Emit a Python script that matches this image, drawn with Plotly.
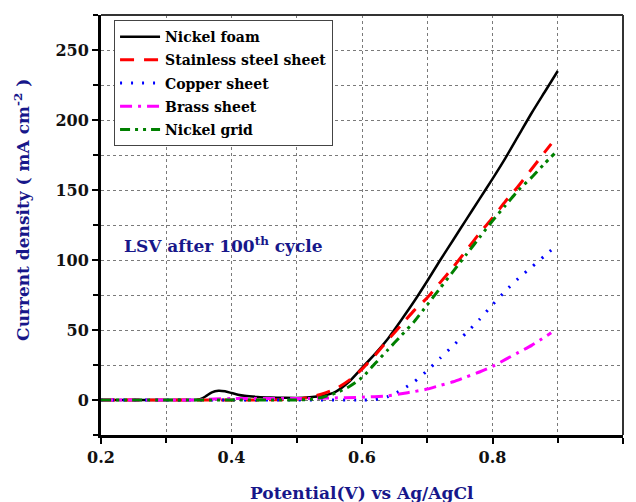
import plotly.graph_objects as go

# ---------------- data ----------------
foam_x = [0.20, 0.30, 0.34, 0.35, 0.36, 0.37, 0.38, 0.39, 0.40, 0.41, 0.42, 0.44, 0.46, 0.48, 0.50,
          0.52, 0.54, 0.56, 0.58, 0.60, 0.62, 0.64, 0.66, 0.68, 0.70, 0.72, 0.74, 0.76, 0.78, 0.80,
          0.82, 0.84, 0.86, 0.88, 0.90]
foam_y = [0, 0, 0, 0.3, 2.5, 5.5, 6.6, 6.2, 5.0, 3.8, 3.0, 2.2, 1.8, 1.6, 1.5,
          2.0, 3.0, 6.0, 13, 23, 33, 44, 57, 70.5, 85, 100, 114.5, 129, 143.5, 158,
          173, 189, 205, 220, 235]

ss_x = [0.20, 0.30, 0.40, 0.50, 0.52, 0.54, 0.56, 0.58, 0.60, 0.62, 0.64, 0.66, 0.68, 0.70, 0.72,
        0.74, 0.76, 0.78, 0.80, 0.82, 0.84, 0.86, 0.88, 0.89]
ss_y = [0, 0, 0, 0.5, 2, 4.5, 8, 14, 22, 32, 43, 53.5, 64, 73, 84,
        95, 107, 119, 130, 142, 153, 165, 177, 183]

cu_x = [0.20, 0.30, 0.40, 0.50, 0.60, 0.62, 0.64, 0.66, 0.68, 0.70, 0.72, 0.74, 0.76, 0.78, 0.80,
        0.82, 0.84, 0.86, 0.88, 0.89]
cu_y = [0, 0, 0, 0, 0, 0.3, 2.5, 7, 13, 21, 30, 39, 48, 57.5, 68,
        78, 87, 95, 103, 107]

brass_x = [0.20, 0.30, 0.35, 0.36, 0.40, 0.50, 0.55, 0.60, 0.64, 0.66, 0.68, 0.70, 0.72, 0.74, 0.76,
           0.78, 0.80, 0.82, 0.84, 0.86, 0.88, 0.89]
brass_y = [0, 0, 0, 0.5, 1.0, 1.0, 1.4, 2.0, 3.0, 4.5, 6.0, 7.8, 10.5, 13, 16.5,
           20, 24, 29, 34, 39, 45, 48]

grid_x = [0.20, 0.30, 0.40, 0.50, 0.52, 0.54, 0.56, 0.58, 0.60, 0.62, 0.64, 0.66, 0.68, 0.70, 0.72,
          0.74, 0.76, 0.78, 0.80, 0.82, 0.84, 0.86, 0.88, 0.895]
grid_y = [0, 0, 0, 0, 0.5, 2, 5, 9.5, 16, 26, 36, 46, 56, 68, 80,
          92, 104, 116, 128, 139, 150, 159, 169, 176]

names = ["Nickel foam", "Stainless steel sheet", "Copper sheet", "Brass sheet", "Nickel grid"]
colors = ["black", "#ff0000", "#0000ff", "#ff00ff", "#008000"]
dashes = ["solid", "14px,10px", "2px,9px", "12px,6px,3px,6px", "10px,5px,3px,5px,3px,5px"]
widths = [2.5, 3, 3, 3, 3]

NAVY = "#17178a"
FONT = "DejaVu Serif"

fig = go.Figure()
series = [(foam_x, foam_y), (ss_x, ss_y), (cu_x, cu_y), (brass_x, brass_y), (grid_x, grid_y)]
for i, ((xs, ys), n, c, d, w) in enumerate(zip(series, names, colors, dashes, widths)):
    fig.add_trace(go.Scatter(x=xs, y=ys, mode="lines", name=n, legendgroup=f"g{i}",
                             line=dict(color=c, dash=d, width=w, shape="spline", smoothing=0.6)))

axis_common = dict(
    showline=True, linecolor="black", linewidth=3,
    ticks="outside", ticklen=6, tickwidth=2, tickcolor="black",
    showgrid=True, gridcolor="#7a7a7a", griddash="dot", gridwidth=1,
    zeroline=False,
    tickfont=dict(family=FONT, size=16, color="#111", weight="bold"),
)

fig.update_xaxes(range=[0.2, 1.0], dtick=0.2, tick0=0.2, tickformat=".1f",
                 minor=dict(dtick=0.1, ticks="outside", ticklen=5, tickwidth=2, tickcolor="black",
                            showgrid=True, gridcolor="#7a7a7a", griddash="dot", gridwidth=1),
                 **axis_common)
fig.update_yaxes(range=[-25, 275], dtick=50, tick0=0,
                 minor=dict(dtick=25, ticks="outside", ticklen=5, tickwidth=2, tickcolor="black",
                            showgrid=True, gridcolor="#7a7a7a", griddash="dot", gridwidth=1),
                 **axis_common)

fig.update_layout(
    width=636, height=502,
    margin=dict(l=101, r=13, t=15, b=67),
    paper_bgcolor="white", plot_bgcolor="white",
    showlegend=True,
    legend=dict(x=0.025, y=0.988, xanchor="left", yanchor="top",
                bgcolor="white", bordercolor="#444", borderwidth=1,
                font=dict(family=FONT, size=14, color="black", weight="bold"),
                itemwidth=40, tracegroupgap=2),
    shapes=[
        dict(type="line", xref="paper", yref="paper", x0=0, x1=1, y0=1, y1=1,
             line=dict(color="#333", width=2)),
        dict(type="line", xref="paper", yref="paper", x0=1, x1=1, y0=0, y1=1,
             line=dict(color="#333", width=2)),
    ],
    annotations=[
        dict(text="LSV after 100<sup>th</sup> cycle", x=0.387, y=110.7, xref="x", yref="y",
             showarrow=False, font=dict(family=FONT, size=17, color=NAVY, weight="bold")),
        dict(text="Current density ( mA cm<sup>-2</sup> )", xref="paper", yref="paper",
             x=0, y=0.536, xshift=-79, textangle=-90, showarrow=False,
             xanchor="center", yanchor="middle",
             font=dict(family=FONT, size=17, color=NAVY, weight="bold")),
        dict(text="Potential(V) vs Ag/AgCl", xref="paper", yref="paper",
             x=0.5, y=0, yshift=-58, showarrow=False, xanchor="center", yanchor="middle",
             font=dict(family=FONT, size=17, color=NAVY, weight="bold")),
    ],
)

fig.write_html("out.html")
